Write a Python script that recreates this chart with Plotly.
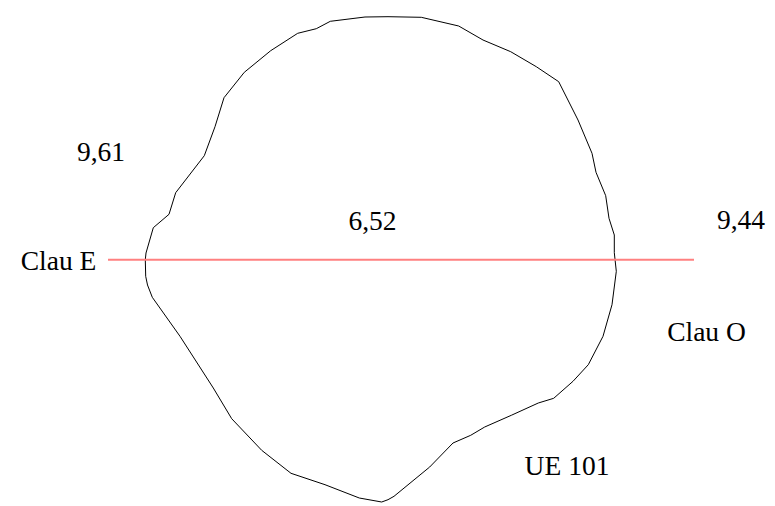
import plotly.graph_objects as go

# Outline (x, y in picture units, y downward)
outline_x = [146, 153.3, 169, 175.7, 204.3, 215, 224, 244.3, 270.7, 297.7, 316.3, 330.3, 365, 388,
             421.3, 458.7, 483, 510.7, 536.3, 558.7, 578, 592, 596, 605.7, 609, 614.3, 614.3,
             616.3, 612, 603, 588.3, 573, 553.7, 538.3, 511.3, 484.7, 470.7, 453, 429.7, 394, 388,
             381.7, 359.3, 325, 291, 261.7, 231.7, 213.3, 180, 152.3, 147.5, 145.7, 145.3, 146]
outline_y = [253, 227.7, 214.3, 192.7, 155.7, 126.7, 97.7, 72.3, 50.7, 33.3, 28.7, 21.3, 17, 16.7,
             17.3, 26, 40, 51.7, 66.7, 81.7, 120, 153.3, 172.3, 195.7, 218.3, 235, 252.7,
             271.3, 304.7, 336.3, 364.7, 381.3, 398.3, 403, 415.3, 427, 435.3, 443, 467, 496.3, 499.7,
             502, 498, 484.7, 473.3, 450.3, 418.7, 388, 336.3, 297.3, 285, 276.3, 259.7, 253]

axis_x = [108, 694]
axis_y = [259.7, 259.7]

label_text = ["9,61", "6,52", "9,44", "Clau E", "Clau O", "UE 101"]
label_x = [101, 372.5, 741, 58.5, 706.5, 567]
label_y = [154.5, 223.5, 222.5, 263.5, 334.5, 468.5]

fig = go.Figure()
fig.add_trace(go.Scatter(x=outline_x, y=outline_y, mode="lines",
                         line=dict(color="#000000", width=1), hoverinfo="skip"))
fig.add_trace(go.Scatter(x=axis_x, y=axis_y, mode="lines",
                         line=dict(color="#ff8080", width=2), hoverinfo="skip"))
fig.add_trace(go.Scatter(x=label_x, y=label_y, mode="text", text=label_text,
                         textposition="middle center",
                         textfont=dict(family="Liberation Serif", size=27.5, color="#000000"),
                         hoverinfo="skip"))
fig.update_layout(width=775, height=506, autosize=False,
                  margin=dict(l=0, r=0, t=0, b=0), showlegend=False,
                  paper_bgcolor="white", plot_bgcolor="white",
                  xaxis=dict(range=[0, 775], visible=False),
                  yaxis=dict(range=[506, 0], visible=False))
fig.write_html("out.html", config={"displayModeBar": False},
               post_script="document.body.style.margin='0';document.body.style.overflow='hidden';")
